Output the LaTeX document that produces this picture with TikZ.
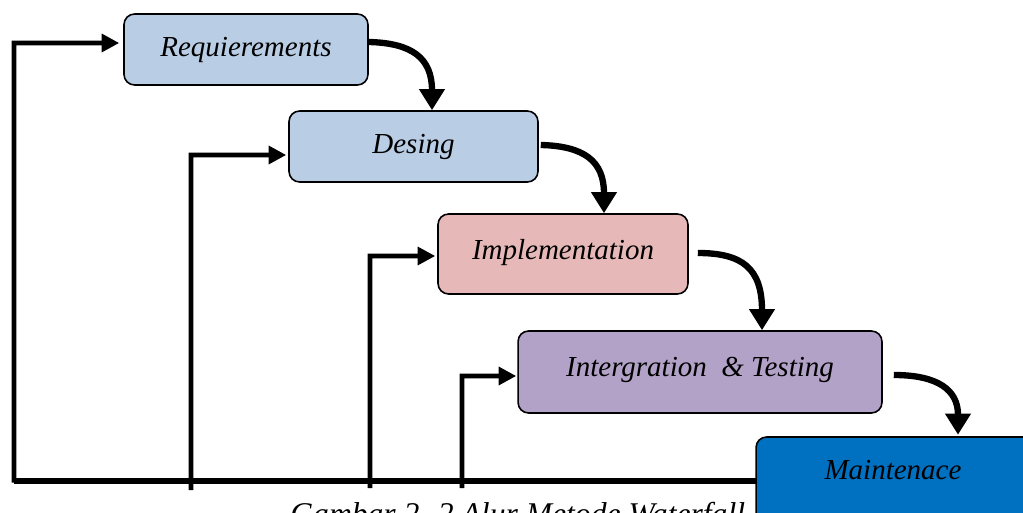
\documentclass[tikz,border=0pt]{standalone}
\usepackage{fontspec}
\setmainfont{Liberation Serif}
\usetikzlibrary{arrows.meta}
\definecolor{bluebox}{HTML}{B9CDE5}
\definecolor{pinkbox}{HTML}{E6B9B8}
\definecolor{purplebox}{HTML}{B3A2C7}
\definecolor{deepblue}{HTML}{0070C0}
\tikzset{
  stagebox/.style={draw=black, line width=0.9pt, rounded corners=6pt, inner sep=0pt,
    font=\fontsize{16.5}{20}\selectfont\itshape},
  flowarrow/.style={line width=3.6pt, -{Triangle[length=12pt,width=14pt]}},
  backarrow/.style={line width=2.8pt, -{Triangle[length=10pt,width=10pt]}},
}
\begin{document}
\begin{tikzpicture}[x=0.02cm,y=-0.02cm]
\useasboundingbox (0,0) rectangle (1023,513);
% boxes
\node[stagebox, fill=bluebox, minimum width=4.88cm, minimum height=1.42cm] (req) at (246,49.5) {\raisebox{3pt}{Requierements}};
\node[stagebox, fill=bluebox, minimum width=4.98cm, minimum height=1.42cm] (des) at (413.5,146.5) {\raisebox{2pt}{Desing}};
\node[stagebox, fill=pinkbox, minimum width=5.0cm, minimum height=1.6cm] (imp) at (563,254) {\raisebox{5pt}{Implementation}};
\node[stagebox, fill=purplebox, minimum width=7.28cm, minimum height=1.64cm] (int) at (700,372) {\raisebox{6pt}{Intergration \ \& Testing}};
\node[stagebox, fill=deepblue, minimum width=5.68cm, minimum height=1.86cm] (mnt) at (898,483.5) {};
\node[font=\fontsize{16.5}{20}\selectfont\itshape] (mntlabel) at (893,470) {Maintenace};
% caption (clipped at bottom)
\node[anchor=base west, inner sep=0pt, font=\fontsize{18}{22}\selectfont\itshape] (caption) at (290,524) {Gambar 2. 2 Alur Metode Waterfall};
% forward curved arrows
\draw[flowarrow] ([yshift=0.15cm]req.east) .. controls (412,43) and (432,58) .. ([xshift=0.37cm]des.north);
\draw[flowarrow] ([xshift=0.04cm,yshift=0.03cm]des.east) .. controls (584,146) and (604,161) .. ([xshift=0.82cm]imp.north);
\draw[flowarrow] ([xshift=0.18cm,yshift=0.02cm]imp.east) .. controls (742,253) and (762,268) .. ([xshift=1.24cm]int.north);
\draw[flowarrow] ([xshift=0.22cm,yshift=-0.06cm]int.east) .. controls (938,375) and (958,390) .. ([xshift=1.2cm,yshift=0.03cm]mnt.north);
% feedback lines
\coordinate (bl) at (14,481);
\coordinate (br) at (756,481);
\draw[line width=3.4pt] (bl) -- (br);
\coordinate (c1) at (14,43);
\draw[backarrow] ([yshift=-0.03cm]bl) -- (c1) -- ([xshift=-0.08cm,yshift=0.13cm]req.west);
\coordinate (d0) at (191,490);
\coordinate (d1) at (191,155);
\draw[backarrow] (d0) -- (d1) -- ([xshift=-0.04cm,yshift=-0.17cm]des.west);
\coordinate (e0) at (370,488);
\coordinate (e1) at (370,256);
\draw[backarrow] (e0) -- (e1) -- ([xshift=-0.04cm,yshift=-0.04cm]imp.west);
\coordinate (f0) at (462,488);
\coordinate (f1) at (462,376);
\draw[backarrow] (f0) -- (f1) -- ([xshift=-0.02cm,yshift=-0.08cm]int.west);
\end{tikzpicture}
\end{document}
